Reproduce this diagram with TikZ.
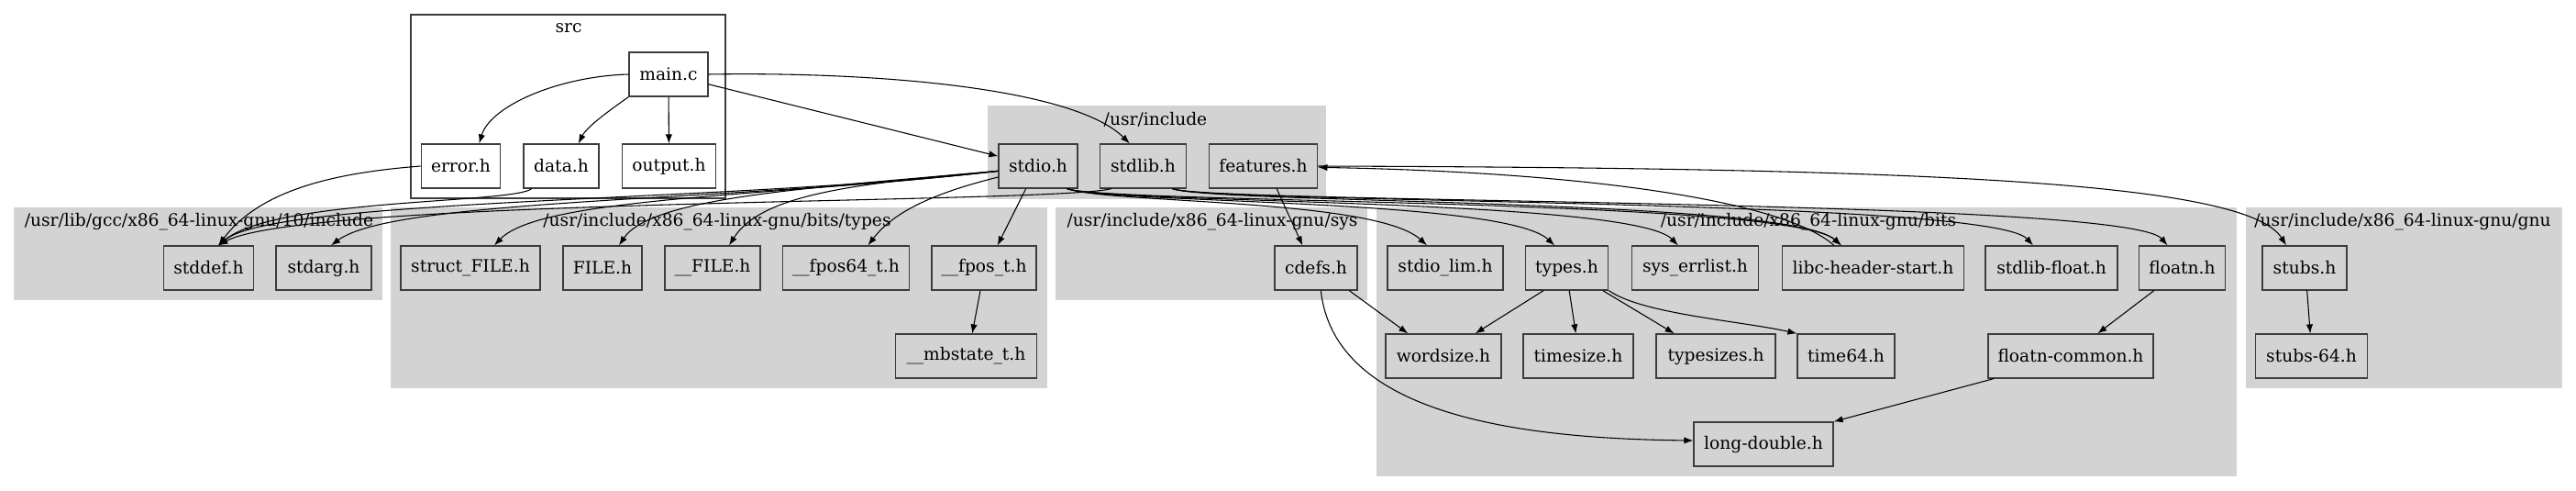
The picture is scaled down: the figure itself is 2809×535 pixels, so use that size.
\documentclass[tikz,border=0pt]{standalone}
\usepackage{fontspec}
\setmainfont{DejaVu Serif}
\usepackage{tikz}
\usetikzlibrary{arrows.meta}
\definecolor{gvgray}{RGB}{211,211,211}
\definecolor{gvline}{RGB}{60,60,60}

\begin{document}
\begin{tikzpicture}[
    x=0.75pt, y=-0.75pt,
    font=\fontsize{14}{17}\selectfont,
    hdr/.style={draw=gvline, line width=0.9pt, fill=gvgray, minimum height=36pt,
      inner xsep=1pt, inner ysep=0pt},
    srcfile/.style={hdr, fill=white},
    grp/.style={fill=gvgray},
    grplbl/.style={inner sep=0pt},
    dep/.style={-{Latex[length=7.5pt, width=5.5pt]}, line width=0.8pt}
  ]
  \useasboundingbox (0,0) rectangle (2809,535);

  % clusters
  \filldraw[draw=gvline, line width=0.9pt, fill=white] (448,16) rectangle (791,216);
  \fill[grp] (1077,115) rectangle (1446,217);
  \fill[grp] (15,226) rectangle (417,327);
  \fill[grp] (426,226) rectangle (1142,423);
  \fill[grp] (1151,226) rectangle (1491,327);
  \fill[grp] (1501,226) rectangle (2439,519);
  \fill[grp] (2449,226) rectangle (2794,423);

  \node[grplbl] (srclbl) at (620,31) {src};
  \node[grplbl] (usrinclbl) at (1260,130) {/usr/include};
  \node[grplbl] (gcclbl) at (217,242) {/usr/lib/gcc/x86\_64-linux-gnu/10/include};
  \node[grplbl] (typeslbl) at (782,242) {/usr/include/x86\_64-linux-gnu/bits/types};
  \node[grplbl] (syslbl) at (1322,242) {/usr/include/x86\_64-linux-gnu/sys};
  \node[grplbl] (bitslbl) at (1972,242) {/usr/include/x86\_64-linux-gnu/bits};
  \node[grplbl] (gnulbl) at (2620,242) {/usr/include/x86\_64-linux-gnu/gnu};

  % src
  \node[srcfile, minimum width=64.5pt] (mainc) at (729,81) {main.c};
  \node[srcfile, minimum width=65pt] (errorh) at (502.5,181) {error.h};
  \node[srcfile, minimum width=61.5pt] (datah) at (612,181) {data.h};
  \node[srcfile, minimum width=77pt] (outputh) at (729.5,181) {output.h};

  % /usr/include
  \node[hdr, minimum width=64.5pt] (stdio) at (1132,181) {stdio.h};
  \node[hdr, minimum width=71pt] (stdlib) at (1246.5,181) {stdlib.h};
  \node[hdr, minimum width=89pt] (features) at (1377.5,181) {features.h};

  % gcc include
  \node[hdr, minimum width=74pt] (stddef) at (227.5,292) {stddef.h};
  \node[hdr, minimum width=78pt] (stdarg) at (353,292) {stdarg.h};

  % bits/types
  \node[hdr, minimum width=114pt] (structfile) at (513,292) {struct\_FILE.h};
  \node[hdr, minimum width=64.5pt] (fileh) at (657,292) {FILE.h};
  \node[hdr, minimum width=78pt] (ufile) at (777,292) {\_\_FILE.h};
  \node[hdr, minimum width=104pt] (fpos64) at (922.5,292) {\_\_fpos64\_t.h};
  \node[hdr, minimum width=85.5pt] (fpos) at (1073,292) {\_\_fpos\_t.h};
  \node[hdr, minimum width=115pt] (mbstate) at (1053.5,388) {\_\_mbstate\_t.h};

  % sys
  \node[hdr, minimum width=67.5pt] (cdefs) at (1435,292) {cdefs.h};

  % bits
  \node[hdr, minimum width=94.5pt] (stdiolim) at (1576,292) {stdio\_lim.h};
  \node[hdr, minimum width=68pt] (types) at (1708.5,292) {types.h};
  \node[hdr, minimum width=104pt] (syserr) at (1848.5,292) {sys\_errlist.h};
  \node[hdr, minimum width=149pt] (libchdr) at (2042.5,292) {libc-header-start.h};
  \node[hdr, minimum width=108pt] (stdlibflt) at (2237,292) {stdlib-float.h};
  \node[hdr, minimum width=71pt] (floatn) at (2379.5,292) {floatn.h};
  \node[hdr, minimum width=94.5pt] (wordsize) at (1574,388) {wordsize.h};
  \node[hdr, minimum width=90pt] (timesize) at (1721,388) {timesize.h};
  \node[hdr, minimum width=97.5pt] (typesizes) at (1871,388) {typesizes.h};
  \node[hdr, minimum width=79.5pt] (timesixfour) at (2013,388) {time64.h};
  \node[hdr, minimum width=135pt] (floatncommon) at (2258,388) {floatn-common.h};
  \node[hdr, minimum width=114pt] (longdouble) at (1923,484) {long-double.h};

  % gnu
  \node[hdr, minimum width=69pt] (stubs) at (2513,292) {stubs.h};
  \node[hdr, minimum width=92pt] (stubssixfour) at (2520.5,388) {stubs-64.h};

  % main.c
  \draw[dep] (mainc.west) .. controls (610,83) and (535,115) .. ([xshift=15pt]errorh.north);
  \draw[dep] (mainc.south west) .. controls (665,120) and (640,138) .. ([xshift=14pt]datah.north);
  \draw[dep] (mainc) -- (outputh);
  \draw[dep] (mainc) -- (stdio);
  \draw[dep] (mainc.east) .. controls (950,78) and (1170,95) .. ([xshift=-11pt]stdlib.north);

  % into gcc include
  \draw[dep] (errorh.west) .. controls (370,188) and (285,205) .. ([xshift=8pt]stddef.north);
  \draw[dep] ([xshift=7pt]datah.south west) .. controls (560,222) and (300,216) .. ([xshift=8pt]stddef.north);
  \draw[dep] ([yshift=-4pt]stdio.west) .. controls (800,220) and (300,216) .. ([xshift=8pt]stddef.north);
  \draw[dep] ([yshift=-4pt]stdio.west) .. controls (800,220) and (430,216) .. ([xshift=6pt]stdarg.north);
  \draw[dep] ([xshift=10pt]stdlib.south west) .. controls (1150,222) and (330,216) .. ([xshift=8pt]stddef.north);

  % stdio.h, left
  \draw[dep] ([yshift=-4pt]stdio.west) .. controls (850,214) and (590,214) .. ([xshift=19.5pt]structfile.north);
  \draw[dep] ([yshift=-4pt]stdio.west) .. controls (880,205) and (710,215) .. ([xshift=13.5pt]fileh.north);
  \draw[dep] ([yshift=-4pt]stdio.west) .. controls (930,200) and (830,212) .. ([xshift=13.5pt]ufile.north);
  \draw[dep] ([yshift=-9pt]stdio.west) .. controls (1020,210) and (975,230) .. ([xshift=18pt]fpos64.north);
  \draw[dep] ([xshift=-10pt]stdio.south) -- ([xshift=11pt]fpos.north);
  \draw[dep] ([xshift=-3pt]fpos.south) -- ([xshift=5pt]mbstate.north);

  % stdio.h and stdlib.h, right
  \draw[dep] ([xshift=-9pt]stdio.south east) .. controls (1210,222) and (1500,216) .. ([xshift=-15pt]stdiolim.north);
  \draw[dep] ([xshift=-9pt]stdio.south east) .. controls (1210,222) and (1640,216) .. ([xshift=-10pt]types.north);
  \draw[dep] ([xshift=-9pt]stdio.south east) .. controls (1210,222) and (1780,216) .. ([xshift=-14pt]syserr.north);
  \draw[dep] ([xshift=-9pt]stdio.south east) .. controls (1210,222) and (1950,216) .. ([xshift=-26pt]libchdr.north);
  \draw[dep] ([xshift=-12pt]stdlib.south east) .. controls (1320,222) and (1950,216) .. ([xshift=-26pt]libchdr.north);
  \draw[dep] ([xshift=-12pt]stdlib.south east) .. controls (1320,222) and (2170,216) .. ([xshift=-15pt]stdlibflt.north);
  \draw[dep] ([xshift=-12pt]stdlib.south east) .. controls (1320,222) and (2320,216) .. ([xshift=-12pt]floatn.north);

  % features.h
  \draw[dep] ([xshift=-32pt]libchdr.north) .. controls (1950,222) and (1750,188) .. ([yshift=-1pt]features.east);
  \draw[dep] (features.east) .. controls (2100,183) and (2450,198) .. ([xshift=-15pt]stubs.north);
  \draw[dep] ([xshift=11pt]features.south) -- ([xshift=-11pt]cdefs.north);
  \draw[dep] ([xshift=2pt]stubs.south) -- ([xshift=-1pt]stubssixfour.north);

  % cdefs.h and types.h
  \draw[dep] ([xshift=-7pt]cdefs.south east) -- ([xshift=-29pt]wordsize.north);
  \draw[dep] ([xshift=4pt]cdefs.south) .. controls (1455,450) and (1650,478) .. ([yshift=3pt]longdouble.west);
  \draw[dep] ([xshift=-19pt]types.south) -- ([xshift=26pt]wordsize.north);
  \draw[dep] ([xshift=2pt]types.south) -- ([xshift=-2pt]timesize.north);
  \draw[dep] ([xshift=-5pt]types.south east) -- ([xshift=-34pt]typesizes.north);
  \draw[dep] (types.south east) .. controls (1790,342) and (1900,350) .. (timesixfour.north west);

  % floatn.h
  \draw[dep] ([xshift=-23pt]floatn.south) -- ([xshift=22pt]floatncommon.north);
  \draw[dep] ([xshift=5pt]floatncommon.south west) -- (longdouble.north east);
\end{tikzpicture}
\end{document}
